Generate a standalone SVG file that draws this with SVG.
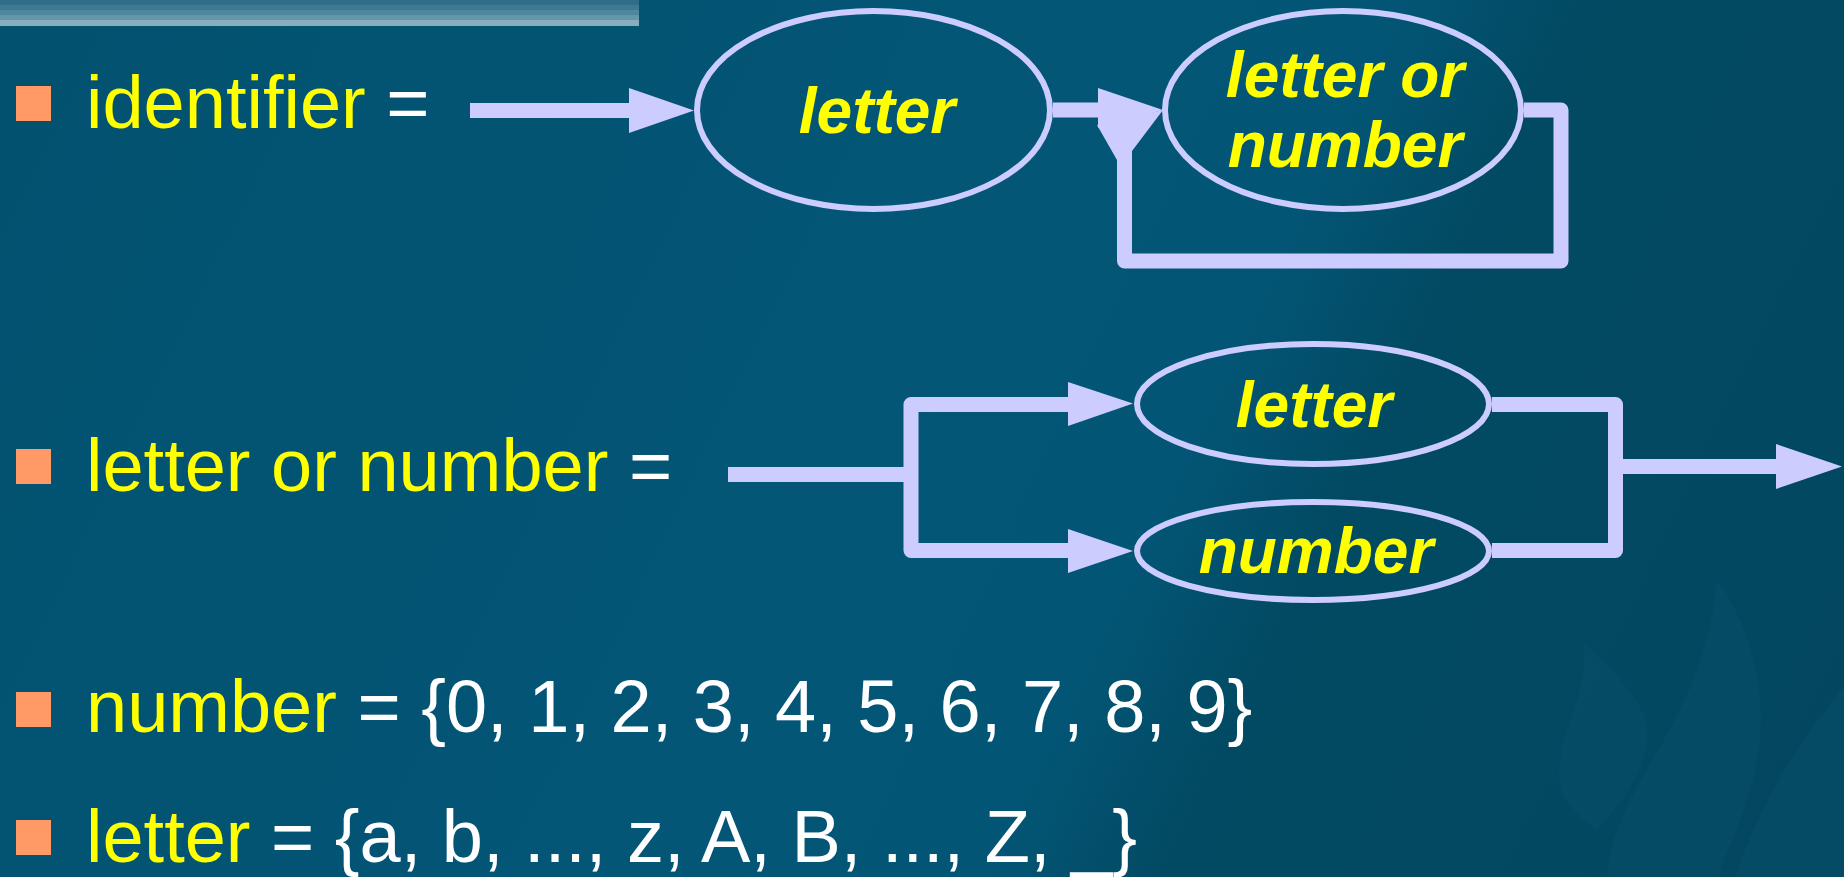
<svg xmlns="http://www.w3.org/2000/svg" width="1844" height="877" viewBox="0 0 1844 877">
<defs>
<linearGradient id="bg" x1="0" y1="0" x2="1844" y2="877" gradientUnits="userSpaceOnUse">
<stop offset="0" stop-color="#02516f"/>
<stop offset="0.5" stop-color="#045677"/>
<stop offset="0.62" stop-color="#035575"/>
<stop offset="0.7" stop-color="#024a63"/>
<stop offset="1" stop-color="#02475f"/>
</linearGradient>
<style>
.t{font-family:"Liberation Sans",Arial,sans-serif;font-size:74px}
.y{fill:#ffff00}
.w{fill:#ffffff}
.n{font-family:"Liberation Sans",Arial,sans-serif;font-size:64px;font-weight:bold;font-style:italic;fill:#ffff00;text-anchor:middle}
.e{fill:none;stroke:#ccccff;stroke-width:6}
.c{fill:none;stroke:#ccccff;stroke-width:15;stroke-linejoin:round}
.h{fill:#ccccff}
.b{fill:#ff9966}
.f{fill:#0a4f69;opacity:0.6}
</style>
</defs>
<rect width="1844" height="877" fill="url(#bg)"/>
<g id="flames">
<path class="f" d="M1583 643 C1625 680 1652 715 1647 740 C1642 780 1615 810 1597 830 C1570 810 1555 790 1560 765 C1563 720 1590 690 1583 643 Z"/>
<path class="f" d="M1717 580 C1760 640 1772 720 1750 790 C1740 830 1724 850 1720 877 L1607 877 C1610 820 1650 770 1680 710 C1700 670 1712 630 1717 580 Z"/>
<path class="f" d="M1844 687 C1800 740 1755 810 1736 877 L1844 877 Z"/>
</g>
<g id="banner">
<rect x="0" y="0" width="639" height="5" fill="#2f6d89"/>
<rect x="0" y="5" width="639" height="5" fill="#3e7a94"/>
<rect x="0" y="10" width="639" height="5" fill="#4f889e"/>
<rect x="0" y="15" width="639" height="5" fill="#6396a9"/>
<rect x="0" y="20" width="639" height="6" fill="#88adbd"/>
</g>
<g id="line1">
<rect class="b" x="16" y="86" width="35" height="35"/>
<text class="t" x="86" y="128"><tspan class="y">identifier</tspan><tspan class="w"> =</tspan></text>
</g>
<g id="line2">
<rect class="b" x="16" y="449" width="35" height="35"/>
<text class="t" x="86" y="491"><tspan class="y">letter or number</tspan><tspan class="w"> =</tspan></text>
</g>
<g id="line3">
<rect class="b" x="16" y="692" width="35" height="35"/>
<text class="t" x="86" y="732"><tspan class="y">number</tspan><tspan class="w"> = {0, 1, 2, 3, 4, 5, 6, 7, 8, 9}</tspan></text>
</g>
<g id="line4">
<rect class="b" x="16" y="820" width="35" height="35"/>
<text class="t" x="86" y="862"><tspan class="y">letter</tspan><tspan class="w"> = {a, b, ..., z, A, B, ..., Z, _}</tspan></text>
</g>
<g id="connectors">
<path class="c" d="M470 110.5 H632"/>
<polygon class="h" points="629,88 694,110.5 629,133"/>
<path class="c" d="M1053 110 H1100"/>
<polygon class="h" points="1098,88 1163,110 1098,128"/>
<path class="c" d="M1524 110 H1561 V261 H1124.5 V152"/>
<polygon class="h" points="1097,125 1163,110 1132,151 1132,160 1117,160"/>
<path class="c" d="M728 474.5 H911"/>
<path class="c" d="M1070 404.5 H911 V550.5 H1070"/>
<polygon class="h" points="1068,382 1133,403.5 1068,426"/>
<polygon class="h" points="1068,529 1133,551 1068,573"/>
<path class="c" d="M1492 404.5 H1615.5 V550.5 H1492"/>
<path class="c" d="M1615 466.5 H1778"/>
<polygon class="h" points="1776,444 1842,466.5 1776,489"/>
</g>
<g id="n-letter1">
<ellipse class="e" cx="873.5" cy="110" rx="176.5" ry="99"/>
<text class="n" x="877" y="133">letter</text>
</g>
<g id="n-letterornumber">
<ellipse class="e" cx="1343" cy="110" rx="178" ry="99"/>
<text class="n" x="1345" y="97">letter or</text>
<text class="n" x="1345" y="167">number</text>
</g>
<g id="n-letter2">
<ellipse class="e" cx="1313" cy="404" rx="176" ry="60"/>
<text class="n" x="1314" y="427">letter</text>
</g>
<g id="n-number">
<ellipse class="e" cx="1313" cy="551" rx="176" ry="49"/>
<text class="n" x="1316" y="573">number</text>
</g>
</svg>
